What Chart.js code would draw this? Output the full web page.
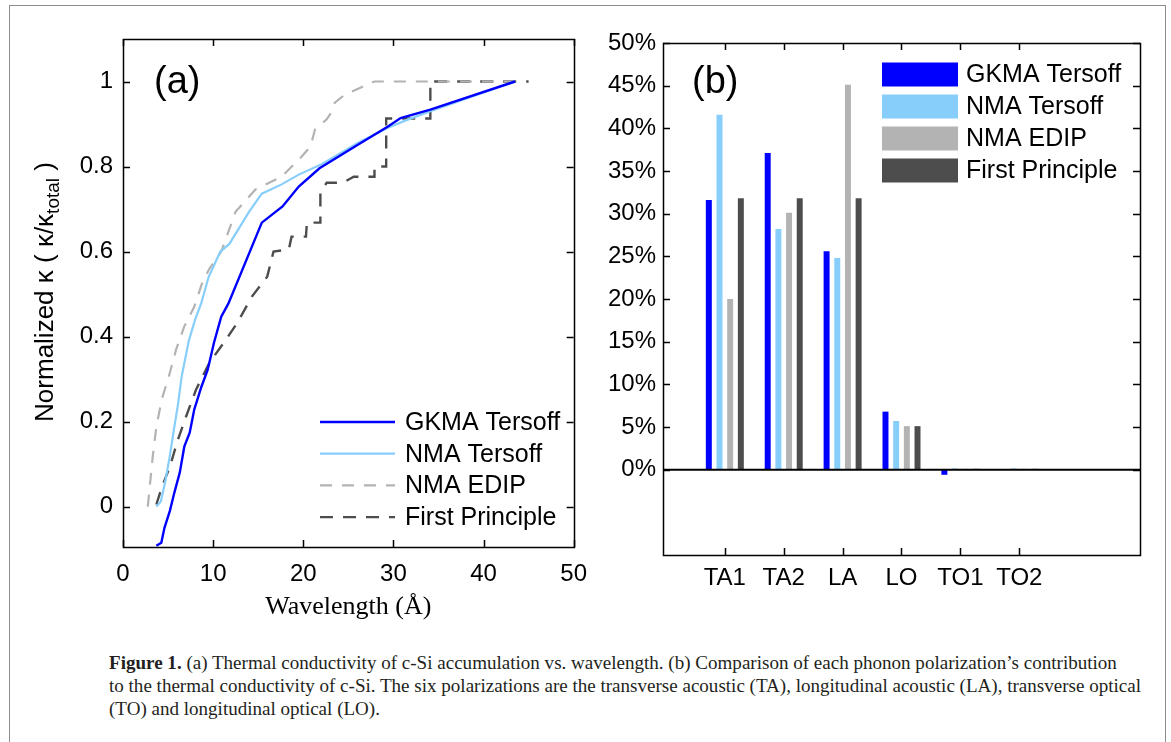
<!DOCTYPE html>
<html>
<head>
<meta charset="utf-8">
<script src="https://cdn.jsdelivr.net/npm/chart.js@4.4.1/dist/chart.umd.min.js"></script>
<style>
  body { margin: 0; background: #fff; width: 1171px; height: 742px; overflow: hidden; position: relative; }
  #border { position: absolute; left: 9px; top: 5px; width: 1155px; height: 800px; border: 1px solid #8c8c8c; }
  #chartA { position: absolute; left: 0; top: 0; }
  #chartB { position: absolute; left: 600px; top: 0; }
  #caption { position: absolute; left: 109px; top: 651px; font-family: "Liberation Serif", serif; font-size: 19px; line-height: 23px; color: #231f20; }
  #caption .ln { white-space: nowrap; transform-origin: 0 0; width: max-content; }
</style>
</head>
<body>
<div id="border"></div>
<canvas id="chartA" width="600" height="640"></canvas>
<canvas id="chartB" width="571" height="640"></canvas>
<div id="caption">
  <div class="ln"><b>Figure 1.</b> (a) Thermal conductivity of c-Si accumulation vs. wavelength. (b) Comparison of each phonon polarization’s contribution</div>
  <div class="ln">to the thermal conductivity of c-Si. The six polarizations are the transverse acoustic (TA), longitudinal acoustic (LA), transverse optical</div>
  <div class="ln">(TO) and longitudinal optical (LO).</div>
</div>
<script>
// ---- panel (a): accumulated conductivity vs wavelength ----
const gkmaWave = [3.7, 4.25, 4.6, 5.2, 5.7, 6.3, 6.8, 7.4, 7.9, 8.7, 9.4, 10.1, 10.9, 11.7, 15.4, 17.7, 19.5, 21.8, 26.1, 29.4, 30.8, 34.1, 43.5];
const gkmaKappa = [-0.092, -0.085, -0.05, -0.01, 0.033, 0.08, 0.141, 0.174, 0.228, 0.282, 0.322, 0.386, 0.447, 0.478, 0.668, 0.706, 0.753, 0.796, 0.852, 0.894, 0.914, 0.934, 1.0];

const nmaTersoffWave = [3.7, 4.2, 4.7, 5.2, 5.6, 6.1, 6.5, 7.3, 8.0, 8.7, 9.5, 10.8, 11.8, 14.0, 15.4, 17.6, 19.5, 21.9, 26.1, 29.4, 31.3, 34.1, 43.5];
const nmaTersoffKappa = [0.0, 0.012, 0.06, 0.12, 0.175, 0.24, 0.305, 0.39, 0.44, 0.48, 0.54, 0.6, 0.618, 0.694, 0.736, 0.758, 0.781, 0.804, 0.856, 0.891, 0.908, 0.93, 1.0];

const nmaEdipWave = [2.75, 3.3, 3.7, 4.3, 5.2, 5.9, 6.8, 7.9, 8.8, 9.6, 10.9, 12.5, 14.7, 16.9, 17.6, 19.8, 20.8, 21.3, 22.6, 23.1, 23.5, 24.6, 26.4, 27.9, 43.5];
const nmaEdipKappa = [0.0, 0.118, 0.188, 0.252, 0.315, 0.37, 0.424, 0.47, 0.527, 0.56, 0.6, 0.694, 0.746, 0.769, 0.776, 0.823, 0.847, 0.887, 0.911, 0.927, 0.95, 0.969, 0.986, 1.0, 1.0];

const firstPrincipleWave = [3.7, 4.3, 5.2, 6.1, 7.0, 8.1, 9.6, 11.2, 12.7, 14.3, 16.0, 16.7, 18.4, 18.7, 20.3, 20.4, 21.9, 21.9, 22.6, 24.4, 25.6, 27.9, 27.9, 29.2, 29.2, 34.1, 34.1, 45.0];
const firstPrincipleKappa = [0.005, 0.045, 0.094, 0.158, 0.212, 0.275, 0.339, 0.386, 0.433, 0.494, 0.541, 0.6, 0.605, 0.635, 0.635, 0.668, 0.668, 0.74, 0.762, 0.762, 0.776, 0.776, 0.8, 0.8, 0.913, 0.913, 1.0, 1.0];

const waveTicks = [0, 10, 20, 30, 40, 50];
const kappaTicks = [0, 0.2, 0.4, 0.6, 0.8, 1];

// ---- panel (b): contribution of each polarization ----
const modes = ["TA1", "TA2", "LA", "LO", "TO1", "TO2"];
const gkmaShare = [31.6, 37.1, 25.6, 6.8, -0.6, -0.05];
const nmaTersoffShare = [41.6, 28.2, 24.8, 5.7, 0.15, 0.15];
const nmaEdipShare = [20.0, 30.1, 45.1, 5.1, 0.1, 0.1];
const firstPrincipleShare = [31.8, 31.8, 31.8, 5.1, 0.1, 0.1];
const shareTicks = [0, 5, 10, 15, 20, 25, 30, 35, 40, 45, 50];

const sans = '"Liberation Sans", Arial, sans-serif';
const colors = { gkma: "#0000ff", nmaT: "#87cefa", edip: "#b3b3b3", fp: "#4d4d4d" };

// boxed frame with inward tick marks on all four sides
const framePlugin = {
	id: "frame",
	afterDatasetsDraw(chart) {
		const { ctx, chartArea: a, scales } = chart;
		const len = 7;
		ctx.save();
		ctx.strokeStyle = "#000";
		ctx.lineWidth = 1.5;
		ctx.beginPath();
		scales.x.ticks.forEach((t) => {
			const px = Math.round(scales.x.getPixelForValue(t.value)) + 0.5;
			ctx.moveTo(px, a.bottom); ctx.lineTo(px, a.bottom - len);
			ctx.moveTo(px, a.top); ctx.lineTo(px, a.top + len);
		});
		scales.y.ticks.forEach((t) => {
			const py = Math.round(scales.y.getPixelForValue(t.value)) + 0.5;
			ctx.moveTo(a.left, py); ctx.lineTo(a.left + len, py);
			ctx.moveTo(a.right, py); ctx.lineTo(a.right - len, py);
		});
		ctx.stroke();
		ctx.strokeRect(Math.round(a.left) + 0.5, Math.round(a.top) + 0.5, Math.round(a.width), Math.round(a.height));
		ctx.restore();
	},
};

const panelLabel = {
	id: "panelLabel",
	afterDraw(chart, args, o) {
		const ctx = chart.ctx;
		ctx.save();
		ctx.font = o.font;
		ctx.fillStyle = "#000";
		ctx.textBaseline = "middle";
		ctx.fillText(o.text, o.x, o.y);
		ctx.restore();
	},
};

const lineLegend = {
	id: "lineLegend",
	afterDraw(chart, args, o) {
		const ctx = chart.ctx;
		chart.data.datasets.forEach((ds, i) => {
			const y = o.top + i * o.gap;
			ctx.save();
			ctx.strokeStyle = ds.borderColor;
			ctx.lineWidth = ds.borderWidth;
			ctx.setLineDash(ds.borderDash || []);
			ctx.beginPath();
			ctx.moveTo(o.left, y);
			ctx.lineTo(o.left + o.len, y);
			ctx.stroke();
			ctx.setLineDash([]);
			ctx.fillStyle = "#000";
			ctx.font = o.font;
			ctx.textBaseline = "middle";
			ctx.fillText(ds.label, o.left + o.len + o.textGap, y + 1);
			ctx.restore();
		});
	},
};

const boxLegend = {
	id: "boxLegend",
	afterDraw(chart, args, o) {
		const ctx = chart.ctx;
		chart.data.datasets.forEach((ds, i) => {
			const y = o.top + i * o.gap;
			ctx.save();
			ctx.fillStyle = ds.backgroundColor;
			ctx.fillRect(o.left, y - o.boxH / 2, o.boxW, o.boxH);
			ctx.fillStyle = "#000";
			ctx.font = o.font;
			ctx.textBaseline = "middle";
			ctx.fillText(ds.label, o.left + o.boxW + o.textGap, y + 1);
			ctx.restore();
		});
	},
};

const zeroLine = {
	id: "zeroLine",
	afterDatasetsDraw(chart) {
		const { ctx, chartArea: a, scales } = chart;
		const y = scales.y.getPixelForValue(0);
		ctx.save();
		ctx.strokeStyle = "#000";
		ctx.lineWidth = 2;
		ctx.beginPath();
		ctx.moveTo(a.left, y);
		ctx.lineTo(a.right, y);
		ctx.stroke();
		ctx.restore();
	},
};

// rotated y title with a subscript
const kappaTitle = {
	id: "kappaTitle",
	afterDraw(chart, args, o) {
		const ctx = chart.ctx;
		const parts = o.parts.map((p) => ({ ...p }));
		ctx.save();
		let w = 0;
		parts.forEach((p) => { ctx.font = p.font; p.w = ctx.measureText(p.text).width; w += p.w; });
		ctx.translate(o.x, o.y);
		ctx.rotate(-Math.PI / 2);
		ctx.textBaseline = "middle";
		ctx.fillStyle = "#000";
		let x = -w / 2;
		parts.forEach((p) => { ctx.font = p.font; ctx.fillText(p.text, x, p.dy); x += p.w; });
		ctx.restore();
	},
};

const toPoints = (xs, ys) => xs.map((x, i) => ({ x, y: ys[i] }));

new Chart(document.getElementById("chartA"), {
	type: "line",
	data: {
		datasets: [
			{ label: "GKMA Tersoff", data: toPoints(gkmaWave, gkmaKappa), borderColor: colors.gkma, borderWidth: 2.4 },
			{ label: "NMA Tersoff", data: toPoints(nmaTersoffWave, nmaTersoffKappa), borderColor: colors.nmaT, borderWidth: 2.2 },
			{ label: "NMA EDIP", data: toPoints(nmaEdipWave, nmaEdipKappa), borderColor: colors.edip, borderWidth: 2.2, borderDash: [12, 10] },
			{ label: "First Principle", data: toPoints(firstPrincipleWave, firstPrincipleKappa), borderColor: colors.fp, borderWidth: 2.4, borderDash: [13, 10] },
		],
	},
	options: {
		responsive: false,
		animation: false,
		devicePixelRatio: 1,
		elements: { point: { radius: 0 }, line: { tension: 0 } },
		layout: { padding: { top: 39, right: 23, left: 0, bottom: 0 } },
		scales: {
			x: {
				type: "linear",
				min: 0,
				max: 50,
				afterBuildTicks: (s) => { s.ticks = waveTicks.map((v) => ({ value: v })); },
				afterFit: (s) => { s.height = 93; },
				grid: { display: false, drawTicks: false },
				border: { display: false },
				ticks: { color: "#000", font: { family: sans, size: 24 }, padding: 13, maxRotation: 0, autoSkip: false },
				title: {
					display: true,
					text: "Wavelength (Å)",
					color: "#000",
					font: { family: '"Liberation Serif", serif', size: 26 },
					padding: { top: 0, bottom: 17 },
				},
			},
			y: {
				type: "linear",
				min: -0.095,
				max: 1.1,
				afterBuildTicks: (s) => { s.ticks = kappaTicks.map((v) => ({ value: v })); },
				afterFit: (s) => { s.width = 123; },
				grid: { display: false, drawTicks: false },
				border: { display: false },
				ticks: { color: "#000", font: { family: sans, size: 24 }, padding: 10, callback: (v) => String(+v.toFixed(1)) },
			},
		},
		plugins: {
			legend: { display: false },
			tooltip: { enabled: false },
			panelLabel: { text: "(a)", x: 154, y: 83, font: "38px " + sans },
			lineLegend: { left: 320, top: 422, gap: 31.7, len: 75, textGap: 10, font: "25px " + sans },
			kappaTitle: {
				x: 46,
				y: 292,
				parts: [
					{ text: "Normalized κ ( κ/κ", font: "26px " + sans, dy: 0 },
					{ text: "total", font: "19px " + sans, dy: 8 },
					{ text: " )", font: "26px " + sans, dy: 0 },
				],
			},
		},
	},
	plugins: [framePlugin, panelLabel, lineLegend, kappaTitle],
});

const toBars = (vals) => vals.map((v, i) => ({ x: i + 1, y: v }));

new Chart(document.getElementById("chartB"), {
	type: "bar",
	data: {
		datasets: [
			{ label: "GKMA Tersoff", data: toBars(gkmaShare), backgroundColor: colors.gkma },
			{ label: "NMA Tersoff", data: toBars(nmaTersoffShare), backgroundColor: colors.nmaT },
			{ label: "NMA EDIP", data: toBars(nmaEdipShare), backgroundColor: colors.edip },
			{ label: "First Principle", data: toBars(firstPrincipleShare), backgroundColor: colors.fp },
		],
	},
	options: {
		responsive: false,
		animation: false,
		devicePixelRatio: 1,
		datasets: { bar: { barPercentage: 0.56, categoryPercentage: 0.725, borderWidth: 0 } },
		layout: { padding: { top: 43, right: 31, left: 0, bottom: 0 } },
		scales: {
			x: {
				type: "linear",
				min: -0.05,
				max: 8.05,
				offset: false,
				afterBuildTicks: (s) => { s.ticks = modes.map((m, i) => ({ value: i + 1 })); },
				afterFit: (s) => { s.height = 85; },
				grid: { display: false, drawTicks: false, offset: false },
				border: { display: false },
				ticks: { color: "#000", font: { family: sans, size: 24 }, padding: 9, maxRotation: 0, autoSkip: false, callback: (v) => modes[v - 1] },
			},
			y: {
				type: "linear",
				min: -10,
				max: 50,
				afterBuildTicks: (s) => { s.ticks = shareTicks.map((v) => ({ value: v })); },
				afterFit: (s) => { s.width = 63; },
				grid: { display: false, drawTicks: false },
				border: { display: false },
				ticks: { color: "#000", font: { family: sans, size: 24 }, padding: 7, callback: (v) => v + "%" },
			},
		},
		plugins: {
			legend: { display: false },
			tooltip: { enabled: false },
			panelLabel: { text: "(b)", x: 92, y: 83, font: "38px " + sans },
			boxLegend: { left: 282, top: 74.5, gap: 32, boxW: 76, boxH: 24, textGap: 8, font: "25px " + sans },
		},
	},
	plugins: [framePlugin, zeroLine, panelLabel, boxLegend],
});

// condense the caption uniformly so the second line matches the reference length
const lines = document.querySelectorAll("#caption .ln");
const squeeze = 1032 / lines[1].getBoundingClientRect().width;
lines.forEach((el) => { el.style.transform = "scaleX(" + squeeze + ")"; });
</script>
</body>
</html>
